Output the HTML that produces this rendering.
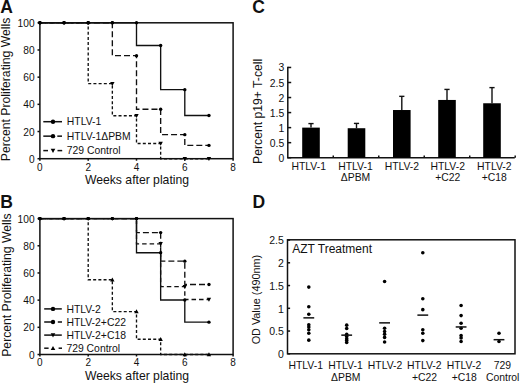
<!DOCTYPE html>
<html><head><meta charset="utf-8"><style>
html,body{margin:0;padding:0;background:#fff;}
body{width:520px;height:383px;overflow:hidden;}
svg{display:block;}
</style></head><body>
<svg width="520" height="383" viewBox="0 0 520 383" font-family='"Liberation Sans", sans-serif'>
<rect width="520" height="383" fill="#fff"/>
<text x="0.3" y="12.8" font-size="17.5" text-anchor="start" font-weight="bold" fill="#111">A</text>
<text x="0.2" y="207.6" font-size="17.5" text-anchor="start" font-weight="bold" fill="#111">B</text>
<text x="252.2" y="13" font-size="17.5" text-anchor="start" font-weight="bold" fill="#111">C</text>
<text x="252.6" y="207.6" font-size="17.5" text-anchor="start" font-weight="bold" fill="#111">D</text>
<rect x="39.9" y="22.8" width="193.2" height="135.9" fill="none" stroke="#111" stroke-width="1.5"/>
<line x1="37.5" y1="158.7" x2="39.9" y2="158.7" stroke="#111" stroke-width="1.5"/>
<text x="34.6" y="162.8" font-size="10.2" text-anchor="end" fill="#111">0</text>
<line x1="37.5" y1="131.52" x2="39.9" y2="131.52" stroke="#111" stroke-width="1.5"/>
<text x="34.6" y="135.62" font-size="10.2" text-anchor="end" fill="#111">20</text>
<line x1="37.5" y1="104.34" x2="39.9" y2="104.34" stroke="#111" stroke-width="1.5"/>
<text x="34.6" y="108.44" font-size="10.2" text-anchor="end" fill="#111">40</text>
<line x1="37.5" y1="77.16" x2="39.9" y2="77.16" stroke="#111" stroke-width="1.5"/>
<text x="34.6" y="81.26" font-size="10.2" text-anchor="end" fill="#111">60</text>
<line x1="37.5" y1="49.98" x2="39.9" y2="49.98" stroke="#111" stroke-width="1.5"/>
<text x="34.6" y="54.08" font-size="10.2" text-anchor="end" fill="#111">80</text>
<line x1="37.5" y1="22.8" x2="39.9" y2="22.8" stroke="#111" stroke-width="1.5"/>
<text x="34.6" y="26.9" font-size="10.2" text-anchor="end" fill="#111">100</text>
<line x1="39.9" y1="158.7" x2="39.9" y2="160.7" stroke="#111" stroke-width="1.5"/>
<text x="39.9" y="170.5" font-size="10" text-anchor="middle" fill="#111">0</text>
<line x1="88.2" y1="158.7" x2="88.2" y2="160.7" stroke="#111" stroke-width="1.5"/>
<text x="88.2" y="170.5" font-size="10" text-anchor="middle" fill="#111">2</text>
<line x1="136.5" y1="158.7" x2="136.5" y2="160.7" stroke="#111" stroke-width="1.5"/>
<text x="136.5" y="170.5" font-size="10" text-anchor="middle" fill="#111">4</text>
<line x1="184.8" y1="158.7" x2="184.8" y2="160.7" stroke="#111" stroke-width="1.5"/>
<text x="184.8" y="170.5" font-size="10" text-anchor="middle" fill="#111">6</text>
<line x1="233.1" y1="158.7" x2="233.1" y2="160.7" stroke="#111" stroke-width="1.5"/>
<text x="233.1" y="170.5" font-size="10" text-anchor="middle" fill="#111">8</text>
<text x="137" y="184.1" font-size="12.2" text-anchor="middle" fill="#111">Weeks after plating</text>
<text x="10.4" y="89.45" font-size="12.2" text-anchor="middle" transform="rotate(-90 10.4 89.45)" fill="#111">Percent Proliferating Wells</text>
<path d="M39.9,22.8 L39.9,22.8 L64.05,22.8 L64.05,22.8 L88.2,22.8 L88.2,22.8 L112.35,22.8 L112.35,22.8 L136.5,22.8 L136.5,45.5 L160.65,45.5 L160.65,89.66 L184.8,89.66 L184.8,115.48 L208.95,115.48" fill="none" stroke="#111" stroke-width="1.35"/>
<path d="M39.9,22.8 L39.9,22.8 L64.05,22.8 L64.05,22.8 L88.2,22.8 L88.2,22.8 L112.35,22.8 L112.35,55.69 L136.5,55.69 L136.5,109.23 L160.65,109.23 L160.65,134.65 L184.8,134.65 L184.8,145.38 L208.95,145.38" fill="none" stroke="#111" stroke-width="1.35" stroke-dasharray="6,3"/>
<path d="M39.9,22.8 L39.9,22.8 L64.05,22.8 L64.05,22.8 L88.2,22.8 L88.2,83.68 L112.35,83.68 L112.35,115.76 L136.5,115.76 L136.5,143.48 L160.65,143.48 L160.65,158.7 L184.8,158.7 L184.8,158.7 L208.95,158.7" fill="none" stroke="#111" stroke-width="1.35" stroke-dasharray="3,2.2"/>
<polygon points="110.15,81.92 114.55,81.92 112.35,85.88" fill="#000"/>
<polygon points="134.3,114 138.7,114 136.5,117.96" fill="#000"/>
<polygon points="158.45,141.72 162.85,141.72 160.65,145.68" fill="#000"/>
<polygon points="182.6,156.94 187,156.94 184.8,160.9" fill="#000"/>
<polygon points="206.75,156.94 211.15,156.94 208.95,160.9" fill="#000"/>
<circle cx="39.9" cy="22.8" r="1.7" fill="#000"/>
<circle cx="64.05" cy="22.8" r="1.7" fill="#000"/>
<circle cx="88.2" cy="22.8" r="1.7" fill="#000"/>
<circle cx="112.35" cy="22.8" r="1.7" fill="#000"/>
<circle cx="136.5" cy="22.8" r="1.7" fill="#000"/>
<circle cx="160.65" cy="45.5" r="1.7" fill="#000"/>
<circle cx="184.8" cy="89.66" r="1.7" fill="#000"/>
<circle cx="208.95" cy="115.48" r="1.7" fill="#000"/>
<circle cx="39.9" cy="22.8" r="1.7" fill="#000"/>
<circle cx="64.05" cy="22.8" r="1.7" fill="#000"/>
<circle cx="88.2" cy="22.8" r="1.7" fill="#000"/>
<circle cx="112.35" cy="22.8" r="1.7" fill="#000"/>
<circle cx="136.5" cy="55.69" r="1.7" fill="#000"/>
<circle cx="160.65" cy="109.23" r="1.7" fill="#000"/>
<circle cx="184.8" cy="134.65" r="1.7" fill="#000"/>
<circle cx="208.95" cy="145.38" r="1.7" fill="#000"/>
<circle cx="39.9" cy="22.8" r="1.7" fill="#000"/>
<circle cx="64.05" cy="22.8" r="1.7" fill="#000"/>
<circle cx="88.2" cy="22.8" r="1.7" fill="#000"/>
<line x1="43.3" y1="121.7" x2="62" y2="121.7" stroke="#111" stroke-width="1.5"/>
<circle cx="53" cy="121.7" r="2.2" fill="#000"/>
<text x="66.8" y="125.3" font-size="10.4" text-anchor="start" fill="#111">HTLV-1</text>
<line x1="43.3" y1="136.15" x2="53" y2="136.15" stroke="#111" stroke-width="1.5"/>
<line x1="57.3" y1="136.15" x2="62" y2="136.15" stroke="#111" stroke-width="1.5"/>
<circle cx="53" cy="136.15" r="2.2" fill="#000"/>
<text x="66.8" y="139.75" font-size="10.4" text-anchor="start" fill="#111">HTLV-1&#916;PBM</text>
<line x1="43.3" y1="150.6" x2="48" y2="150.6" stroke="#111" stroke-width="1.5"/>
<line x1="57.5" y1="150.6" x2="62.2" y2="150.6" stroke="#111" stroke-width="1.5"/>
<polygon points="50.7,148.76 55.3,148.76 53,152.9" fill="#000"/>
<text x="66.8" y="154.2" font-size="10.4" text-anchor="start" fill="#111">729 Control</text>
<rect x="39.9" y="218.6" width="193.2" height="135.9" fill="none" stroke="#111" stroke-width="1.5"/>
<line x1="37.5" y1="354.5" x2="39.9" y2="354.5" stroke="#111" stroke-width="1.5"/>
<text x="34.6" y="358.6" font-size="10.2" text-anchor="end" fill="#111">0</text>
<line x1="37.5" y1="327.32" x2="39.9" y2="327.32" stroke="#111" stroke-width="1.5"/>
<text x="34.6" y="331.42" font-size="10.2" text-anchor="end" fill="#111">20</text>
<line x1="37.5" y1="300.14" x2="39.9" y2="300.14" stroke="#111" stroke-width="1.5"/>
<text x="34.6" y="304.24" font-size="10.2" text-anchor="end" fill="#111">40</text>
<line x1="37.5" y1="272.96" x2="39.9" y2="272.96" stroke="#111" stroke-width="1.5"/>
<text x="34.6" y="277.06" font-size="10.2" text-anchor="end" fill="#111">60</text>
<line x1="37.5" y1="245.78" x2="39.9" y2="245.78" stroke="#111" stroke-width="1.5"/>
<text x="34.6" y="249.88" font-size="10.2" text-anchor="end" fill="#111">80</text>
<line x1="37.5" y1="218.6" x2="39.9" y2="218.6" stroke="#111" stroke-width="1.5"/>
<text x="34.6" y="222.7" font-size="10.2" text-anchor="end" fill="#111">100</text>
<line x1="39.9" y1="354.5" x2="39.9" y2="356.5" stroke="#111" stroke-width="1.5"/>
<text x="39.9" y="366.3" font-size="10" text-anchor="middle" fill="#111">0</text>
<line x1="88.2" y1="354.5" x2="88.2" y2="356.5" stroke="#111" stroke-width="1.5"/>
<text x="88.2" y="366.3" font-size="10" text-anchor="middle" fill="#111">2</text>
<line x1="136.5" y1="354.5" x2="136.5" y2="356.5" stroke="#111" stroke-width="1.5"/>
<text x="136.5" y="366.3" font-size="10" text-anchor="middle" fill="#111">4</text>
<line x1="184.8" y1="354.5" x2="184.8" y2="356.5" stroke="#111" stroke-width="1.5"/>
<text x="184.8" y="366.3" font-size="10" text-anchor="middle" fill="#111">6</text>
<line x1="233.1" y1="354.5" x2="233.1" y2="356.5" stroke="#111" stroke-width="1.5"/>
<text x="233.1" y="366.3" font-size="10" text-anchor="middle" fill="#111">8</text>
<text x="137" y="379.9" font-size="12.2" text-anchor="middle" fill="#111">Weeks after plating</text>
<text x="10.9" y="285.1" font-size="12.2" text-anchor="middle" transform="rotate(-90 10.9 285.1)" fill="#111">Percent Proliferating Wells</text>
<path d="M39.9,218.6 L39.9,218.6 L64.05,218.6 L64.05,218.6 L88.2,218.6 L88.2,218.6 L112.35,218.6 L112.35,218.6 L136.5,218.6 L136.5,252.71 L160.65,252.71 L160.65,300 L184.8,300 L184.8,322.16 L208.95,322.16" fill="none" stroke="#111" stroke-width="1.35"/>
<path d="M39.9,218.6 L39.9,218.6 L64.05,218.6 L64.05,218.6 L88.2,218.6 L88.2,218.6 L112.35,218.6 L112.35,218.6 L136.5,218.6 L136.5,232.6 L160.65,232.6 L160.65,261.14 L184.8,261.14 L184.8,284.51 L208.95,284.51" fill="none" stroke="#111" stroke-width="1.35" stroke-dasharray="6,3"/>
<path d="M39.9,218.6 L39.9,218.6 L64.05,218.6 L64.05,218.6 L88.2,218.6 L88.2,218.6 L112.35,218.6 L112.35,218.6 L136.5,218.6 L136.5,243.88 L160.65,243.88 L160.65,286.69 L184.8,286.69 L184.8,299.46 L208.95,299.46" fill="none" stroke="#111" stroke-width="1.35" stroke-dasharray="4.5,3"/>
<path d="M39.9,218.6 L39.9,218.6 L64.05,218.6 L64.05,218.6 L88.2,218.6 L88.2,279.75 L112.35,279.75 L112.35,311.56 L136.5,311.56 L136.5,339.28 L160.65,339.28 L160.65,354.5 L184.8,354.5 L184.8,354.5 L208.95,354.5" fill="none" stroke="#111" stroke-width="1.35" stroke-dasharray="3,2.2"/>
<polygon points="158.45,242.12 162.85,242.12 160.65,246.08" fill="#000"/>
<polygon points="182.6,284.93 187,284.93 184.8,288.89" fill="#000"/>
<polygon points="206.75,297.7 211.15,297.7 208.95,301.66" fill="#000"/>
<polygon points="110.15,281.51 114.55,281.51 112.35,277.56" fill="#000"/>
<polygon points="134.3,313.32 138.7,313.32 136.5,309.36" fill="#000"/>
<polygon points="158.45,341.04 162.85,341.04 160.65,337.08" fill="#000"/>
<polygon points="182.6,356.26 187,356.26 184.8,352.3" fill="#000"/>
<polygon points="206.75,356.26 211.15,356.26 208.95,352.3" fill="#000"/>
<circle cx="39.9" cy="218.6" r="1.7" fill="#000"/>
<circle cx="64.05" cy="218.6" r="1.7" fill="#000"/>
<circle cx="88.2" cy="218.6" r="1.7" fill="#000"/>
<circle cx="112.35" cy="218.6" r="1.7" fill="#000"/>
<circle cx="136.5" cy="218.6" r="1.7" fill="#000"/>
<circle cx="160.65" cy="252.71" r="1.7" fill="#000"/>
<circle cx="184.8" cy="300" r="1.7" fill="#000"/>
<circle cx="208.95" cy="322.16" r="1.7" fill="#000"/>
<circle cx="39.9" cy="218.6" r="1.7" fill="#000"/>
<circle cx="64.05" cy="218.6" r="1.7" fill="#000"/>
<circle cx="88.2" cy="218.6" r="1.7" fill="#000"/>
<circle cx="112.35" cy="218.6" r="1.7" fill="#000"/>
<circle cx="136.5" cy="218.6" r="1.7" fill="#000"/>
<circle cx="160.65" cy="232.6" r="1.7" fill="#000"/>
<circle cx="184.8" cy="261.14" r="1.7" fill="#000"/>
<circle cx="208.95" cy="284.51" r="1.7" fill="#000"/>
<circle cx="39.9" cy="218.6" r="1.7" fill="#000"/>
<circle cx="64.05" cy="218.6" r="1.7" fill="#000"/>
<circle cx="88.2" cy="218.6" r="1.7" fill="#000"/>
<circle cx="112.35" cy="218.6" r="1.7" fill="#000"/>
<circle cx="136.5" cy="218.6" r="1.7" fill="#000"/>
<circle cx="39.9" cy="218.6" r="1.7" fill="#000"/>
<circle cx="64.05" cy="218.6" r="1.7" fill="#000"/>
<circle cx="88.2" cy="218.6" r="1.7" fill="#000"/>
<line x1="44.2" y1="308.9" x2="61.8" y2="308.9" stroke="#111" stroke-width="1.5"/>
<circle cx="53" cy="308.9" r="2.2" fill="#000"/>
<text x="66.4" y="312.5" font-size="10.4" text-anchor="start" fill="#111">HTLV-2</text>
<line x1="44.2" y1="322" x2="53" y2="322" stroke="#111" stroke-width="1.5"/>
<line x1="57.8" y1="322" x2="62" y2="322" stroke="#111" stroke-width="1.5"/>
<circle cx="53" cy="322" r="2.2" fill="#000"/>
<text x="66.4" y="325.6" font-size="10.4" text-anchor="start" fill="#111">HTLV-2+C22</text>
<line x1="44.2" y1="335.1" x2="61.8" y2="335.1" stroke="#111" stroke-width="1.5"/>
<polygon points="50.7,333.26 55.3,333.26 53,337.4" fill="#000"/>
<text x="66.4" y="338.7" font-size="10.4" text-anchor="start" fill="#111">HTLV-2+C18</text>
<line x1="44.2" y1="348.2" x2="48.6" y2="348.2" stroke="#111" stroke-width="1.5"/>
<line x1="58.6" y1="348.2" x2="62" y2="348.2" stroke="#111" stroke-width="1.5"/>
<polygon points="50.7,350.04 55.3,350.04 53,345.9" fill="#000"/>
<text x="66.4" y="351.8" font-size="10.4" text-anchor="start" fill="#111">729 Control</text>
<line x1="287.8" y1="66.86" x2="287.8" y2="158.3" stroke="#111" stroke-width="1.5"/>
<line x1="287.2" y1="157.7" x2="514.8" y2="157.7" stroke="#111" stroke-width="1.5"/>
<line x1="287.8" y1="157.7" x2="291.2" y2="157.7" stroke="#111" stroke-width="1.5"/>
<text x="284.3" y="161.7" font-size="10.4" text-anchor="end" fill="#111">0</text>
<line x1="287.8" y1="142.66" x2="291.2" y2="142.66" stroke="#111" stroke-width="1.5"/>
<text x="284.3" y="146.66" font-size="10.4" text-anchor="end" fill="#111">0.5</text>
<line x1="287.8" y1="127.62" x2="291.2" y2="127.62" stroke="#111" stroke-width="1.5"/>
<text x="284.3" y="131.62" font-size="10.4" text-anchor="end" fill="#111">1</text>
<line x1="287.8" y1="112.58" x2="291.2" y2="112.58" stroke="#111" stroke-width="1.5"/>
<text x="284.3" y="116.58" font-size="10.4" text-anchor="end" fill="#111">1.5</text>
<line x1="287.8" y1="97.54" x2="291.2" y2="97.54" stroke="#111" stroke-width="1.5"/>
<text x="284.3" y="101.54" font-size="10.4" text-anchor="end" fill="#111">2</text>
<line x1="287.8" y1="82.5" x2="291.2" y2="82.5" stroke="#111" stroke-width="1.5"/>
<text x="284.3" y="86.5" font-size="10.4" text-anchor="end" fill="#111">2.5</text>
<line x1="287.8" y1="67.46" x2="291.2" y2="67.46" stroke="#111" stroke-width="1.5"/>
<text x="284.3" y="71.46" font-size="10.4" text-anchor="end" fill="#111">3</text>
<line x1="333.28" y1="157.7" x2="333.28" y2="155.5" stroke="#111" stroke-width="1.5"/>
<line x1="378.76" y1="157.7" x2="378.76" y2="155.5" stroke="#111" stroke-width="1.5"/>
<line x1="424.24" y1="157.7" x2="424.24" y2="155.5" stroke="#111" stroke-width="1.5"/>
<line x1="469.72" y1="157.7" x2="469.72" y2="155.5" stroke="#111" stroke-width="1.5"/>
<line x1="515.2" y1="157.7" x2="515.2" y2="155.5" stroke="#111" stroke-width="1.5"/>
<line x1="311" y1="127.62" x2="311" y2="123.59" stroke="#111" stroke-width="1.4"/>
<line x1="308.4" y1="123.59" x2="313.6" y2="123.59" stroke="#111" stroke-width="1.4"/>
<rect x="302.2" y="127.62" width="17.6" height="30.08" fill="#000"/>
<line x1="356.5" y1="128.22" x2="356.5" y2="123.41" stroke="#111" stroke-width="1.4"/>
<line x1="353.9" y1="123.41" x2="359.1" y2="123.41" stroke="#111" stroke-width="1.4"/>
<rect x="347.7" y="128.22" width="17.6" height="29.48" fill="#000"/>
<line x1="401.8" y1="110.02" x2="401.8" y2="96.34" stroke="#111" stroke-width="1.4"/>
<line x1="399.2" y1="96.34" x2="404.4" y2="96.34" stroke="#111" stroke-width="1.4"/>
<rect x="393" y="110.02" width="17.6" height="47.68" fill="#000"/>
<line x1="447" y1="99.95" x2="447" y2="89.42" stroke="#111" stroke-width="1.4"/>
<line x1="444.4" y1="89.42" x2="449.6" y2="89.42" stroke="#111" stroke-width="1.4"/>
<rect x="438.2" y="99.95" width="17.6" height="57.75" fill="#000"/>
<line x1="492" y1="103.26" x2="492" y2="87.61" stroke="#111" stroke-width="1.4"/>
<line x1="489.4" y1="87.61" x2="494.6" y2="87.61" stroke="#111" stroke-width="1.4"/>
<rect x="483.2" y="103.26" width="17.6" height="54.44" fill="#000"/>
<text x="308.7" y="170.1" font-size="10.4" text-anchor="middle" fill="#111">HTLV-1</text>
<text x="355.5" y="170.1" font-size="10.4" text-anchor="middle" fill="#111">HTLV-1</text>
<text x="355.5" y="181" font-size="10.4" text-anchor="middle" fill="#111">&#916;PBM</text>
<text x="401.9" y="170.1" font-size="10.4" text-anchor="middle" fill="#111">HTLV-2</text>
<text x="447.7" y="170.1" font-size="10.4" text-anchor="middle" fill="#111">HTLV-2</text>
<text x="447.7" y="181" font-size="10.4" text-anchor="middle" fill="#111">+C22</text>
<text x="494.3" y="170.1" font-size="10.4" text-anchor="middle" fill="#111">HTLV-2</text>
<text x="494.3" y="181" font-size="10.4" text-anchor="middle" fill="#111">+C18</text>
<text x="262" y="111.35" font-size="12.2" text-anchor="middle" transform="rotate(-90 262 111.35)" fill="#111">Percent p19+ T-cell</text>
<rect x="287.5" y="239.8" width="227.5" height="114" fill="none" stroke="#111" stroke-width="1.5"/>
<line x1="287.5" y1="353.8" x2="290.1" y2="353.8" stroke="#111" stroke-width="1.5"/>
<text x="283.9" y="358" font-size="10.5" text-anchor="end" fill="#111">0</text>
<line x1="287.5" y1="331.05" x2="290.1" y2="331.05" stroke="#111" stroke-width="1.5"/>
<text x="283.9" y="335.25" font-size="10.5" text-anchor="end" fill="#111">0.5</text>
<line x1="287.5" y1="308.3" x2="290.1" y2="308.3" stroke="#111" stroke-width="1.5"/>
<text x="283.9" y="312.5" font-size="10.5" text-anchor="end" fill="#111">1</text>
<line x1="287.5" y1="285.55" x2="290.1" y2="285.55" stroke="#111" stroke-width="1.5"/>
<text x="283.9" y="289.75" font-size="10.5" text-anchor="end" fill="#111">1.5</text>
<line x1="287.5" y1="262.8" x2="290.1" y2="262.8" stroke="#111" stroke-width="1.5"/>
<text x="283.9" y="267" font-size="10.5" text-anchor="end" fill="#111">2</text>
<line x1="287.5" y1="240.05" x2="290.1" y2="240.05" stroke="#111" stroke-width="1.5"/>
<text x="283.9" y="244.25" font-size="10.5" text-anchor="end" fill="#111">2.5</text>
<text x="292.2" y="252.6" font-size="12" text-anchor="start" fill="#111">AZT Treatment</text>
<text x="260.3" y="299.55" font-size="10.85" text-anchor="middle" transform="rotate(-90 260.3 299.55)" fill="#111">OD Value (490nm)</text>
<circle cx="308.8" cy="287.1" r="1.8" fill="#000"/>
<circle cx="308.8" cy="306.71" r="1.8" fill="#000"/>
<circle cx="308.8" cy="314.22" r="1.8" fill="#000"/>
<circle cx="308.8" cy="324.68" r="1.8" fill="#000"/>
<circle cx="308.8" cy="326.96" r="1.8" fill="#000"/>
<circle cx="308.8" cy="329.69" r="1.8" fill="#000"/>
<circle cx="308.8" cy="333.32" r="1.8" fill="#000"/>
<circle cx="308.8" cy="340.15" r="1.8" fill="#000"/>
<line x1="303.4" y1="317.86" x2="314.2" y2="317.86" stroke="#111" stroke-width="1.5"/>
<circle cx="346.7" cy="325.13" r="1.8" fill="#000"/>
<circle cx="346.7" cy="328.5" r="1.8" fill="#000"/>
<circle cx="346.7" cy="334.24" r="1.8" fill="#000"/>
<circle cx="346.7" cy="336.51" r="1.8" fill="#000"/>
<circle cx="346.7" cy="338.79" r="1.8" fill="#000"/>
<circle cx="346.7" cy="340.61" r="1.8" fill="#000"/>
<circle cx="346.7" cy="342.43" r="1.8" fill="#000"/>
<line x1="341.3" y1="335.15" x2="352.1" y2="335.15" stroke="#111" stroke-width="1.5"/>
<circle cx="384.6" cy="281.46" r="1.8" fill="#000"/>
<circle cx="384.6" cy="328.32" r="1.8" fill="#000"/>
<circle cx="384.6" cy="331.5" r="1.8" fill="#000"/>
<circle cx="384.6" cy="334.24" r="1.8" fill="#000"/>
<circle cx="384.6" cy="337.42" r="1.8" fill="#000"/>
<circle cx="384.6" cy="341.97" r="1.8" fill="#000"/>
<line x1="379.2" y1="322.86" x2="390" y2="322.86" stroke="#111" stroke-width="1.5"/>
<circle cx="422.8" cy="252.79" r="1.8" fill="#000"/>
<circle cx="422.8" cy="298.75" r="1.8" fill="#000"/>
<circle cx="422.8" cy="309.67" r="1.8" fill="#000"/>
<circle cx="422.8" cy="329.69" r="1.8" fill="#000"/>
<circle cx="422.8" cy="333.32" r="1.8" fill="#000"/>
<circle cx="422.8" cy="340.61" r="1.8" fill="#000"/>
<line x1="417.4" y1="315.12" x2="428.2" y2="315.12" stroke="#111" stroke-width="1.5"/>
<circle cx="461.1" cy="305.57" r="1.8" fill="#000"/>
<circle cx="461.1" cy="315.58" r="1.8" fill="#000"/>
<circle cx="461.1" cy="323.31" r="1.8" fill="#000"/>
<circle cx="461.1" cy="328.32" r="1.8" fill="#000"/>
<circle cx="461.1" cy="335.6" r="1.8" fill="#000"/>
<circle cx="461.1" cy="337.88" r="1.8" fill="#000"/>
<circle cx="461.1" cy="341.51" r="1.8" fill="#000"/>
<line x1="455.7" y1="326.96" x2="466.5" y2="326.96" stroke="#111" stroke-width="1.5"/>
<circle cx="499" cy="333.32" r="1.8" fill="#000"/>
<circle cx="499" cy="341.51" r="1.8" fill="#000"/>
<line x1="493.6" y1="339.69" x2="504.4" y2="339.69" stroke="#111" stroke-width="1.5"/>
<text x="305.7" y="368.6" font-size="10.4" text-anchor="middle" fill="#111">HTLV-1</text>
<text x="345.5" y="368.6" font-size="10.4" text-anchor="middle" fill="#111">HTLV-1</text>
<text x="345.8" y="380.9" font-size="10.4" text-anchor="middle" fill="#111">&#916;PBM</text>
<text x="385.1" y="368.6" font-size="10.4" text-anchor="middle" fill="#111">HTLV-2</text>
<text x="424.3" y="368.6" font-size="10.4" text-anchor="middle" fill="#111">HTLV-2</text>
<text x="424.6" y="380.9" font-size="10.4" text-anchor="middle" fill="#111">+C22</text>
<text x="464" y="368.6" font-size="10.4" text-anchor="middle" fill="#111">HTLV-2</text>
<text x="464.3" y="380.9" font-size="10.4" text-anchor="middle" fill="#111">+C18</text>
<text x="502.4" y="368.6" font-size="10.4" text-anchor="middle" fill="#111">729</text>
<text x="502.7" y="380.9" font-size="10.4" text-anchor="middle" fill="#111">Control</text>
</svg>
</body></html>
